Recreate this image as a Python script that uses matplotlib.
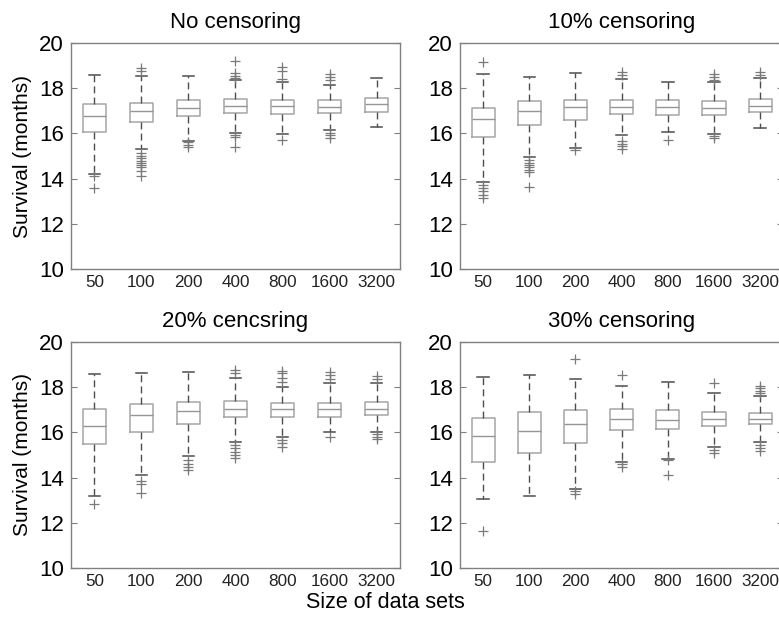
import matplotlib
matplotlib.use("Agg")
import matplotlib.pyplot as plt

plt.rcParams["font.family"] = ["Liberation Sans", "DejaVu Sans"]

## Sample sizes on the x axis
sizes = ["50", "100", "200", "400", "800", "1600", "3200"]
titles = ["No censoring", "10% censoring", "20% cencsring", "30% censoring"]

## Box statistics (months)
## --- No censoring
nc_med = [16.78, 16.98, 17.11, 17.21, 17.20, 17.18, 17.32]
nc_q1 = [16.06, 16.49, 16.76, 16.90, 16.87, 16.92, 16.95]
nc_q3 = [17.32, 17.35, 17.49, 17.52, 17.48, 17.48, 17.55]
nc_lo = [14.20, 15.31, 15.68, 16.02, 15.99, 16.17, 16.27]
nc_hi = [18.60, 18.53, 18.53, 18.38, 18.26, 18.16, 18.45]
nc_fl = [
    [14.10, 13.58],
    [18.75, 18.88, 15.13, 15.0, 14.9, 14.8, 14.7, 14.6, 14.5, 14.32, 14.10],
    [15.6, 15.5, 15.42],
    [19.19, 18.67, 18.55, 18.45, 15.94, 15.84, 15.40],
    [18.92, 18.75, 18.41, 15.72],
    [18.63, 18.48, 18.38, 16.02, 15.91, 15.80],
    [],
]

## --- 10% censoring
c10_med = [16.64, 16.98, 17.17, 17.18, 17.17, 17.14, 17.20]
c10_q1 = [15.83, 16.37, 16.61, 16.86, 16.81, 16.83, 16.95]
c10_q3 = [17.12, 17.42, 17.48, 17.49, 17.48, 17.42, 17.54]
c10_lo = [13.85, 14.94, 15.35, 15.93, 16.08, 15.97, 16.22]
c10_hi = [18.63, 18.50, 18.66, 18.41, 18.29, 18.27, 18.45]
c10_fl = [
    [19.16, 13.73, 13.58, 13.44, 13.29, 13.14],
    [14.84, 14.7, 14.6, 14.5, 14.4, 14.3, 13.61],
    [15.25],
    [18.72, 18.57, 15.65, 15.55, 15.45, 15.3],
    [15.72],
    [18.63, 18.48, 18.38, 15.9, 15.8],
    [18.73, 18.60],
]

## --- 20% censoring
c20_med = [16.29, 16.77, 16.93, 17.03, 17.02, 17.03, 17.05]
c20_q1 = [15.47, 16.00, 16.37, 16.66, 16.66, 16.66, 16.78]
c20_q3 = [17.05, 17.27, 17.33, 17.37, 17.28, 17.28, 17.36]
c20_lo = [13.19, 14.11, 14.96, 15.58, 15.78, 16.00, 16.03]
c20_hi = [18.60, 18.64, 18.67, 18.42, 18.02, 18.17, 18.20]
c20_fl = [
    [12.85],
    [13.84, 13.71, 13.32],
    [14.77, 14.62, 14.48, 14.33],
    [18.76, 18.61, 15.44, 15.29, 15.14, 15.0, 14.85],
    [18.73, 18.61, 18.39, 18.24, 15.66, 15.51, 15.36],
    [18.69, 18.54, 18.35, 15.8],
    [18.5, 18.36, 15.92, 15.8, 15.72],
]

## --- 30% censoring
c30_med = [15.86, 16.08, 16.35, 16.59, 16.57, 16.60, 16.60]
c30_q1 = [14.70, 15.08, 15.55, 16.12, 16.13, 16.29, 16.35]
c30_q3 = [16.65, 16.92, 16.97, 17.03, 17.00, 16.91, 16.88]
c30_lo = [13.07, 13.18, 13.49, 14.67, 14.84, 15.36, 15.58]
c30_hi = [18.46, 18.55, 18.38, 18.06, 18.23, 17.73, 17.62]
c30_fl = [
    [11.62],
    [],
    [19.23, 13.4, 13.26],
    [18.54, 14.59, 14.48],
    [14.76, 14.13],
    [18.2, 15.2, 15.1],
    [18.05, 17.95, 17.84, 17.73, 15.46, 15.33, 15.18],
]

panels = [
    (nc_med, nc_q1, nc_q3, nc_lo, nc_hi, nc_fl),
    (c10_med, c10_q1, c10_q3, c10_lo, c10_hi, c10_fl),
    (c20_med, c20_q1, c20_q3, c20_lo, c20_hi, c20_fl),
    (c30_med, c30_q1, c30_q3, c30_lo, c30_hi, c30_fl),
]

## Axes rectangles in figure fraction (the right column runs off the page)
rects = [
    [0.0911, 0.5661, 0.4224, 0.3645],
    [0.5905, 0.5661, 0.4150, 0.3645],
    [0.0911, 0.0839, 0.4224, 0.3645],
    [0.5905, 0.0839, 0.4150, 0.3645],
]

spine_col = "#808080"
box_col = "#a6a6a6"
med_col = "#959595"
whisk_col = "#4d4d4d"

fig = plt.figure(figsize=(7.79, 6.20), dpi=100)

for i, (rect, data) in enumerate(zip(rects, panels)):
    med, q1, q3, lo, hi, fl = data
    ax = fig.add_axes(rect)
    stats = []
    for k in range(len(sizes)):
        stats.append({"med": med[k], "q1": q1[k], "q3": q3[k],
                      "whislo": lo[k], "whishi": hi[k], "fliers": fl[k]})
    ax.bxp(stats, positions=range(1, len(sizes) + 1), widths=0.5,
           boxprops=dict(color=box_col, linewidth=1.1),
           medianprops=dict(color=med_col, linewidth=1.0),
           whiskerprops=dict(color=whisk_col, linewidth=1.0, linestyle=(0, (5, 3))),
           capprops=dict(color=whisk_col, linewidth=1.1),
           flierprops=dict(marker="+", markersize=7, markeredgecolor="#7a7a7a",
                           markeredgewidth=0.9, linestyle="none"))

    ax.set_xlim(0.5, 7.5)
    ax.set_ylim(10, 20)
    ax.set_yticks([10, 12, 14, 16, 18, 20])
    ax.set_xticks(range(1, len(sizes) + 1))
    ax.set_xticklabels(sizes, fontsize=12.3, color="#222222")
    ax.tick_params(axis="y", labelsize=16, direction="in", length=4,
                   color=spine_col, right=True, pad=5)
    ax.tick_params(axis="x", length=0, pad=4)
    for s in ax.spines.values():
        s.set_color(spine_col)
        s.set_linewidth(1.0)

    ax.set_title(titles[i], fontsize=16, pad=11)
    if i % 2 == 0:
        ax.set_ylabel("Survival (months)", fontsize=15, labelpad=5)

fig.text(385 / 779, 1 - 603 / 620, "Size of data sets", fontsize=15.5,
         ha="center", va="center")

fig.savefig("out.png", dpi=100)
